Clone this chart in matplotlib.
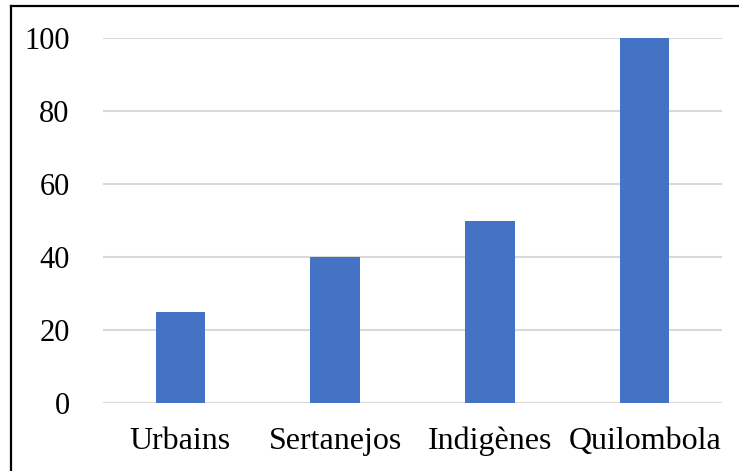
import matplotlib
matplotlib.use("Agg")
import matplotlib.pyplot as plt
from matplotlib.lines import Line2D

categories = ["Urbains", "Sertanejos", "Indigènes", "Quilombola"]
values = [25, 40, 50, 100]
yticks = [0, 20, 40, 60, 80, 100]

plt.rcParams['font.family'] = ['Liberation Serif', 'DejaVu Serif']

fig = plt.figure(figsize=(7.39, 4.71), dpi=100)
ax = fig.add_axes([103/739, 1-403/471, (722-103)/739, (403-38)/471])

x = list(range(len(categories)))
ax.bar(x, values, width=0.32, color="#4472C4", zorder=3)
ax.set_xlim(-0.5, len(categories)-0.5)
ax.set_ylim(0, 100)
ax.set_yticks(yticks)
ax.set_yticklabels([str(v) for v in yticks])
ax.set_xticks(x)
ax.set_xticklabels(categories)
ax.tick_params(axis='both', length=0, colors='black')
ax.tick_params(axis='y', pad=24, labelsize=22)
ax.tick_params(axis='x', pad=17, labelsize=23)
ax.grid(axis='y', color='#d9d9d9', linewidth=1.5, zorder=0)
for s in ax.spines.values():
    s.set_visible(False)

# outer frame (top and left visible)
fig.add_artist(Line2D([10.5/739, 10.5/739], [0, 1-6/471], transform=fig.transFigure, color='black', linewidth=1.6))
fig.add_artist(Line2D([10.5/739, 1], [1-6/471, 1-6/471], transform=fig.transFigure, color='black', linewidth=1.6))

fig.savefig("out.png", dpi=100)
